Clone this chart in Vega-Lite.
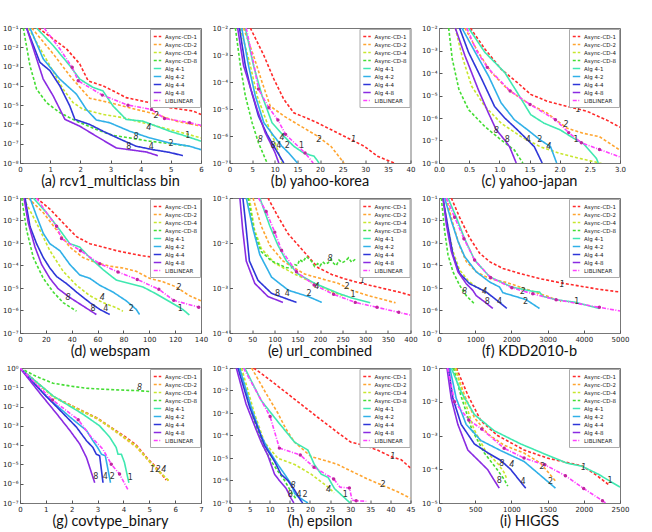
{
"$schema":"https://vega.github.io/schema/vega-lite/v6.json",
"background":"white",
"padding":{"left":2,"top":23,"right":4,"bottom":2},
"bounds":"flush",
"columns":3,
"spacing":{"row":35,"column":28.5},
"datasets":{
"lines":[
{"p":"a","s":"Async-CD-1","x":0.61,"y":0.1},{"p":"a","s":"Async-CD-1","x":1.54,"y":8.32e-3},{"p":"a","s":"Async-CD-1","x":1.98,"y":1.38e-3},{"p":"a","s":"Async-CD-1","x":2.26,"y":1.82e-4},{"p":"a","s":"Async-CD-1","x":2.75,"y":1e-4},{"p":"a","s":"Async-CD-1","x":3.19,"y":4.57e-5},{"p":"a","s":"Async-CD-1","x":3.52,"y":2.45e-5},{"p":"a","s":"Async-CD-1","x":4.3,"y":1.35e-5},{"p":"a","s":"Async-CD-1","x":4.96,"y":7.41e-6},{"p":"a","s":"Async-CD-1","x":5.73,"y":5.01e-6},{"p":"a","s":"Async-CD-1","x":6.0,"y":3.31e-6},
{"p":"a","s":"Async-CD-2","x":0.39,"y":0.1},{"p":"a","s":"Async-CD-2","x":1.1,"y":4.57e-3},{"p":"a","s":"Async-CD-2","x":1.65,"y":3.39e-4},{"p":"a","s":"Async-CD-2","x":2.09,"y":5.5e-5},{"p":"a","s":"Async-CD-2","x":2.31,"y":2.29e-5},{"p":"a","s":"Async-CD-2","x":2.97,"y":1.35e-5},{"p":"a","s":"Async-CD-2","x":3.85,"y":6.03e-6},{"p":"a","s":"Async-CD-2","x":4.52,"y":3.31e-6},{"p":"a","s":"Async-CD-2","x":5.18,"y":1.48e-6},{"p":"a","s":"Async-CD-2","x":6.0,"y":8.13e-7},
{"p":"a","s":"Async-CD-4","x":0.28,"y":0.1},{"p":"a","s":"Async-CD-4","x":0.99,"y":1.12e-3},{"p":"a","s":"Async-CD-4","x":1.43,"y":6.76e-5},{"p":"a","s":"Async-CD-4","x":1.76,"y":1.35e-5},{"p":"a","s":"Async-CD-4","x":2.09,"y":6.03e-6},{"p":"a","s":"Async-CD-4","x":2.75,"y":3.31e-6},{"p":"a","s":"Async-CD-4","x":3.41,"y":2.24e-6},{"p":"a","s":"Async-CD-4","x":4.07,"y":1.23e-6},{"p":"a","s":"Async-CD-4","x":4.74,"y":6.76e-7},{"p":"a","s":"Async-CD-4","x":5.4,"y":3.63e-7},{"p":"a","s":"Async-CD-4","x":6.0,"y":2.0e-7},
{"p":"a","s":"Async-CD-8","x":0.11,"y":0.1},{"p":"a","s":"Async-CD-8","x":0.33,"y":1.12e-3},{"p":"a","s":"Async-CD-8","x":0.55,"y":6.76e-5},{"p":"a","s":"Async-CD-8","x":0.88,"y":1.35e-5},{"p":"a","s":"Async-CD-8","x":1.32,"y":4.07e-6},{"p":"a","s":"Async-CD-8","x":1.87,"y":1.48e-6},{"p":"a","s":"Async-CD-8","x":2.53,"y":5.5e-7},{"p":"a","s":"Async-CD-8","x":3.08,"y":2.69e-7},{"p":"a","s":"Async-CD-8","x":3.63,"y":2.0e-7},{"p":"a","s":"Async-CD-8","x":4.3,"y":1.35e-7},{"p":"a","s":"Async-CD-8","x":4.96,"y":1.02e-7},{"p":"a","s":"Async-CD-8","x":5.62,"y":7.41e-8},
{"p":"a","s":"Alg 4-1","x":0.55,"y":0.1},{"p":"a","s":"Alg 4-1","x":1.1,"y":1.23e-2},{"p":"a","s":"Alg 4-1","x":1.65,"y":1.12e-3},{"p":"a","s":"Alg 4-1","x":1.98,"y":2.24e-4},{"p":"a","s":"Alg 4-1","x":2.42,"y":8.32e-5},{"p":"a","s":"Alg 4-1","x":2.75,"y":5.5e-5},{"p":"a","s":"Alg 4-1","x":3.08,"y":9.12e-6},{"p":"a","s":"Alg 4-1","x":3.52,"y":1.82e-6},{"p":"a","s":"Alg 4-1","x":4.07,"y":1.48e-6},{"p":"a","s":"Alg 4-1","x":4.52,"y":8.13e-7},{"p":"a","s":"Alg 4-1","x":4.96,"y":4.47e-7},{"p":"a","s":"Alg 4-1","x":5.51,"y":2.45e-7},{"p":"a","s":"Alg 4-1","x":6.0,"y":1.35e-7},
{"p":"a","s":"Alg 4-2","x":0.33,"y":0.1},{"p":"a","s":"Alg 4-2","x":0.77,"y":2.51e-3},{"p":"a","s":"Alg 4-2","x":1.32,"y":2.24e-4},{"p":"a","s":"Alg 4-2","x":1.87,"y":3.72e-5},{"p":"a","s":"Alg 4-2","x":2.2,"y":6.03e-6},{"p":"a","s":"Alg 4-2","x":2.53,"y":1.7e-6},{"p":"a","s":"Alg 4-2","x":2.97,"y":1.23e-6},{"p":"a","s":"Alg 4-2","x":3.63,"y":4.47e-7},{"p":"a","s":"Alg 4-2","x":4.3,"y":2.0e-7},{"p":"a","s":"Alg 4-2","x":4.96,"y":1.1e-7},{"p":"a","s":"Alg 4-2","x":5.62,"y":7.41e-8},{"p":"a","s":"Alg 4-2","x":6.0,"y":4.9e-8},
{"p":"a","s":"Alg 4-4","x":0.22,"y":0.1},{"p":"a","s":"Alg 4-4","x":0.66,"y":1.66e-3},{"p":"a","s":"Alg 4-4","x":0.99,"y":6.17e-4},{"p":"a","s":"Alg 4-4","x":1.32,"y":1e-4},{"p":"a","s":"Alg 4-4","x":1.65,"y":9.12e-6},{"p":"a","s":"Alg 4-4","x":1.82,"y":1.82e-6},{"p":"a","s":"Alg 4-4","x":2.31,"y":1e-6},{"p":"a","s":"Alg 4-4","x":2.75,"y":4.47e-7},{"p":"a","s":"Alg 4-4","x":3.3,"y":1.78e-7},{"p":"a","s":"Alg 4-4","x":3.85,"y":7.41e-8},{"p":"a","s":"Alg 4-4","x":4.41,"y":4.9e-8},{"p":"a","s":"Alg 4-4","x":4.96,"y":3.55e-8},{"p":"a","s":"Alg 4-4","x":5.4,"y":2.4e-8},
{"p":"a","s":"Alg 4-8","x":0.22,"y":0.1},{"p":"a","s":"Alg 4-8","x":0.77,"y":2.24e-4},{"p":"a","s":"Alg 4-8","x":1.1,"y":3.02e-5},{"p":"a","s":"Alg 4-8","x":1.49,"y":1.82e-6},{"p":"a","s":"Alg 4-8","x":1.98,"y":8.13e-7},{"p":"a","s":"Alg 4-8","x":2.53,"y":2.45e-7},{"p":"a","s":"Alg 4-8","x":3.19,"y":6.03e-8},{"p":"a","s":"Alg 4-8","x":3.63,"y":4.9e-8},{"p":"a","s":"Alg 4-8","x":4.19,"y":3.72e-8},{"p":"a","s":"Alg 4-8","x":4.57,"y":2.4e-8},
{"p":"a","s":"LIBLINEAR","x":0.8,"y":0.1},{"p":"a","s":"LIBLINEAR","x":1.32,"y":8.32e-3},{"p":"a","s":"LIBLINEAR","x":1.73,"y":9.12e-4,"m":1},{"p":"a","s":"LIBLINEAR","x":1.93,"y":1.82e-4,"m":1},{"p":"a","s":"LIBLINEAR","x":2.73,"y":3.31e-5,"m":1},{"p":"a","s":"LIBLINEAR","x":3.58,"y":1e-5,"m":1},{"p":"a","s":"LIBLINEAR","x":4.36,"y":6.03e-6,"m":1},{"p":"a","s":"LIBLINEAR","x":4.79,"y":2.04e-6,"m":1},{"p":"a","s":"LIBLINEAR","x":5.62,"y":1.23e-6,"m":1},{"p":"a","s":"LIBLINEAR","x":6.0,"y":8.91e-7},

{"p":"b","s":"Async-CD-1","x":4.6,"y":1e-2},{"p":"b","s":"Async-CD-1","x":7.6,"y":9.55e-4},{"p":"b","s":"Async-CD-1","x":9.8,"y":1.29e-4},{"p":"b","s":"Async-CD-1","x":12.0,"y":2.29e-5},{"p":"b","s":"Async-CD-1","x":14.2,"y":7.24e-6},{"p":"b","s":"Async-CD-1","x":16.8,"y":4.79e-6},{"p":"b","s":"Async-CD-1","x":19.4,"y":3.09e-6},{"p":"b","s":"Async-CD-1","x":23.1,"y":1.51e-6},{"p":"b","s":"Async-CD-1","x":26.8,"y":7.41e-7},{"p":"b","s":"Async-CD-1","x":29.8,"y":4.17e-7},{"p":"b","s":"Async-CD-1","x":32.7,"y":1.78e-7},{"p":"b","s":"Async-CD-1","x":36.4,"y":1e-7},{"p":"b","s":"Async-CD-1","x":38.0,"y":7.08e-8},
{"p":"b","s":"Async-CD-2","x":3.1,"y":1e-2},{"p":"b","s":"Async-CD-2","x":5.3,"y":9.55e-4},{"p":"b","s":"Async-CD-2","x":7.2,"y":9.77e-5},{"p":"b","s":"Async-CD-2","x":9.0,"y":1.29e-5},{"p":"b","s":"Async-CD-2","x":12.0,"y":5.5e-6},{"p":"b","s":"Async-CD-2","x":15.7,"y":2.34e-6},{"p":"b","s":"Async-CD-2","x":19.4,"y":1e-6},{"p":"b","s":"Async-CD-2","x":22.4,"y":4.17e-7},{"p":"b","s":"Async-CD-2","x":25.3,"y":1e-7},
{"p":"b","s":"Async-CD-4","x":2.4,"y":1e-2},{"p":"b","s":"Async-CD-4","x":4.6,"y":4.07e-4},{"p":"b","s":"Async-CD-4","x":6.1,"y":3.09e-5},{"p":"b","s":"Async-CD-4","x":8.3,"y":3.09e-6},{"p":"b","s":"Async-CD-4","x":10.1,"y":5.62e-7},{"p":"b","s":"Async-CD-4","x":11.6,"y":1e-7},
{"p":"b","s":"Async-CD-8","x":1.3,"y":1e-2},{"p":"b","s":"Async-CD-8","x":2.4,"y":4.07e-4},{"p":"b","s":"Async-CD-8","x":3.5,"y":3.09e-5},{"p":"b","s":"Async-CD-8","x":5.0,"y":3.09e-6},{"p":"b","s":"Async-CD-8","x":6.4,"y":5.62e-7},{"p":"b","s":"Async-CD-8","x":8.3,"y":1e-7},
{"p":"b","s":"Alg 4-1","x":3.5,"y":1e-2},{"p":"b","s":"Alg 4-1","x":5.3,"y":4.07e-4},{"p":"b","s":"Alg 4-1","x":7.2,"y":3.09e-5},{"p":"b","s":"Alg 4-1","x":9.4,"y":3.09e-6},{"p":"b","s":"Alg 4-1","x":12.0,"y":1e-6},{"p":"b","s":"Alg 4-1","x":14.2,"y":4.17e-7},{"p":"b","s":"Alg 4-1","x":16.4,"y":2.34e-7},{"p":"b","s":"Alg 4-1","x":18.7,"y":1.78e-7},{"p":"b","s":"Alg 4-1","x":19.8,"y":1e-7},
{"p":"b","s":"Alg 4-2","x":2.7,"y":1e-2},{"p":"b","s":"Alg 4-2","x":4.2,"y":4.07e-4},{"p":"b","s":"Alg 4-2","x":5.7,"y":3.09e-5},{"p":"b","s":"Alg 4-2","x":7.6,"y":3.09e-6},{"p":"b","s":"Alg 4-2","x":9.8,"y":1e-6},{"p":"b","s":"Alg 4-2","x":11.6,"y":4.17e-7},{"p":"b","s":"Alg 4-2","x":13.1,"y":2.34e-7},{"p":"b","s":"Alg 4-2","x":15.0,"y":1e-7},
{"p":"b","s":"Alg 4-4","x":2.2,"y":1e-2},{"p":"b","s":"Alg 4-4","x":3.5,"y":4.07e-4},{"p":"b","s":"Alg 4-4","x":4.7,"y":5.5e-5},{"p":"b","s":"Alg 4-4","x":6.4,"y":5.5e-6},{"p":"b","s":"Alg 4-4","x":8.3,"y":1.15e-6},{"p":"b","s":"Alg 4-4","x":9.8,"y":4.17e-7},{"p":"b","s":"Alg 4-4","x":12.0,"y":1e-7},
{"p":"b","s":"Alg 4-8","x":1.8,"y":1e-2},{"p":"b","s":"Alg 4-8","x":3.1,"y":4.07e-4},{"p":"b","s":"Alg 4-8","x":4.6,"y":6.31e-5},{"p":"b","s":"Alg 4-8","x":6.1,"y":9.77e-6},{"p":"b","s":"Alg 4-8","x":7.9,"y":1.32e-6},{"p":"b","s":"Alg 4-8","x":9.4,"y":4.17e-7},{"p":"b","s":"Alg 4-8","x":10.1,"y":2.34e-7},{"p":"b","s":"Alg 4-8","x":10.9,"y":1e-7},
{"p":"b","s":"LIBLINEAR","x":3.7,"y":1e-2},{"p":"b","s":"LIBLINEAR","x":5.2,"y":6.31e-4},{"p":"b","s":"LIBLINEAR","x":6.4,"y":5.5e-5,"m":1},{"p":"b","s":"LIBLINEAR","x":8.7,"y":1.12e-5,"m":1},{"p":"b","s":"LIBLINEAR","x":10.7,"y":3.89e-6,"m":1},{"p":"b","s":"LIBLINEAR","x":12.4,"y":1.15e-6,"m":1},{"p":"b","s":"LIBLINEAR","x":16.7,"y":2.34e-7,"m":1},{"p":"b","s":"LIBLINEAR","x":18.5,"y":1e-7},

{"p":"c","s":"Async-CD-1","x":0.52,"y":1e-2},{"p":"c","s":"Async-CD-1","x":0.76,"y":1.17e-3},{"p":"c","s":"Async-CD-1","x":1.03,"y":1.48e-4},{"p":"c","s":"Async-CD-1","x":1.3,"y":3.72e-5},{"p":"c","s":"Async-CD-1","x":1.52,"y":1.12e-5},{"p":"c","s":"Async-CD-1","x":1.79,"y":5.62e-6},{"p":"c","s":"Async-CD-1","x":2.12,"y":3.31e-6},{"p":"c","s":"Async-CD-1","x":2.45,"y":2.0e-6},{"p":"c","s":"Async-CD-1","x":2.77,"y":8.32e-7},{"p":"c","s":"Async-CD-1","x":3.0,"y":3.89e-7},
{"p":"c","s":"Async-CD-2","x":0.43,"y":1e-2},{"p":"c","s":"Async-CD-2","x":0.65,"y":8.32e-4},{"p":"c","s":"Async-CD-2","x":0.87,"y":1.05e-4},{"p":"c","s":"Async-CD-2","x":1.14,"y":1.86e-5},{"p":"c","s":"Async-CD-2","x":1.47,"y":4.68e-6},{"p":"c","s":"Async-CD-2","x":1.79,"y":1.66e-6},{"p":"c","s":"Async-CD-2","x":2.12,"y":3.55e-7},{"p":"c","s":"Async-CD-2","x":2.39,"y":2.09e-7},{"p":"c","s":"Async-CD-2","x":2.66,"y":1.48e-7},{"p":"c","s":"Async-CD-2","x":2.83,"y":7.41e-8},{"p":"c","s":"Async-CD-2","x":3.0,"y":3.72e-8},
{"p":"c","s":"Async-CD-4","x":0.27,"y":1e-2},{"p":"c","s":"Async-CD-4","x":0.38,"y":5.89e-4},{"p":"c","s":"Async-CD-4","x":0.54,"y":2.63e-5},{"p":"c","s":"Async-CD-4","x":0.76,"y":3.31e-6},{"p":"c","s":"Async-CD-4","x":1.03,"y":5.89e-7},{"p":"c","s":"Async-CD-4","x":1.36,"y":1.48e-7},{"p":"c","s":"Async-CD-4","x":1.68,"y":5.25e-8},{"p":"c","s":"Async-CD-4","x":2.01,"y":2.63e-8},{"p":"c","s":"Async-CD-4","x":2.34,"y":1.58e-8},{"p":"c","s":"Async-CD-4","x":2.66,"y":1e-8},{"p":"c","s":"Async-CD-4","x":2.8,"y":7.94e-9},
{"p":"c","s":"Async-CD-8","x":0.16,"y":1e-2},{"p":"c","s":"Async-CD-8","x":0.22,"y":4.17e-4},{"p":"c","s":"Async-CD-8","x":0.33,"y":1.86e-5},{"p":"c","s":"Async-CD-8","x":0.49,"y":2.34e-6},{"p":"c","s":"Async-CD-8","x":0.76,"y":4.17e-7},{"p":"c","s":"Async-CD-8","x":1.03,"y":1.05e-7},{"p":"c","s":"Async-CD-8","x":1.25,"y":3.72e-8},{"p":"c","s":"Async-CD-8","x":1.39,"y":1e-8},
{"p":"c","s":"Alg 4-1","x":0.49,"y":1e-2},{"p":"c","s":"Alg 4-1","x":0.76,"y":8.32e-4},{"p":"c","s":"Alg 4-1","x":1.09,"y":1.05e-4},{"p":"c","s":"Alg 4-1","x":1.3,"y":1.32e-5},{"p":"c","s":"Alg 4-1","x":1.52,"y":1.41e-6},{"p":"c","s":"Alg 4-1","x":1.74,"y":5.89e-7},{"p":"c","s":"Alg 4-1","x":2.01,"y":2.95e-7},{"p":"c","s":"Alg 4-1","x":2.23,"y":1.26e-7},{"p":"c","s":"Alg 4-1","x":2.39,"y":7.41e-8},{"p":"c","s":"Alg 4-1","x":2.61,"y":1.58e-8},{"p":"c","s":"Alg 4-1","x":2.64,"y":1e-8},
{"p":"c","s":"Alg 4-2","x":0.38,"y":1e-2},{"p":"c","s":"Alg 4-2","x":0.6,"y":8.32e-4},{"p":"c","s":"Alg 4-2","x":0.82,"y":7.41e-5},{"p":"c","s":"Alg 4-2","x":1.03,"y":4.68e-6},{"p":"c","s":"Alg 4-2","x":1.25,"y":8.32e-7},{"p":"c","s":"Alg 4-2","x":1.47,"y":2.95e-7},{"p":"c","s":"Alg 4-2","x":1.68,"y":1.05e-7},{"p":"c","s":"Alg 4-2","x":1.85,"y":5.25e-8},{"p":"c","s":"Alg 4-2","x":1.95,"y":1e-8},
{"p":"c","s":"Alg 4-4","x":0.34,"y":1e-2},{"p":"c","s":"Alg 4-4","x":0.49,"y":8.32e-4},{"p":"c","s":"Alg 4-4","x":0.71,"y":5.25e-5},{"p":"c","s":"Alg 4-4","x":0.92,"y":3.31e-6},{"p":"c","s":"Alg 4-4","x":1.09,"y":1e-6},{"p":"c","s":"Alg 4-4","x":1.3,"y":2.95e-7},{"p":"c","s":"Alg 4-4","x":1.47,"y":1.05e-7},{"p":"c","s":"Alg 4-4","x":1.58,"y":5.25e-8},{"p":"c","s":"Alg 4-4","x":1.71,"y":1e-8},
{"p":"c","s":"Alg 4-8","x":0.27,"y":1e-2},{"p":"c","s":"Alg 4-8","x":0.43,"y":5.89e-4},{"p":"c","s":"Alg 4-8","x":0.65,"y":1.86e-5},{"p":"c","s":"Alg 4-8","x":0.82,"y":1.66e-6},{"p":"c","s":"Alg 4-8","x":0.95,"y":2.95e-7},{"p":"c","s":"Alg 4-8","x":1.09,"y":1.05e-7},{"p":"c","s":"Alg 4-8","x":1.17,"y":5.25e-8},{"p":"c","s":"Alg 4-8","x":1.28,"y":1e-8},
{"p":"c","s":"LIBLINEAR","x":0.46,"y":1e-2},{"p":"c","s":"LIBLINEAR","x":0.62,"y":1e-3},{"p":"c","s":"LIBLINEAR","x":0.8,"y":1.78e-4,"m":1},{"p":"c","s":"LIBLINEAR","x":1.18,"y":1.58e-5,"m":1},{"p":"c","s":"LIBLINEAR","x":1.51,"y":3.98e-6,"m":1},{"p":"c","s":"LIBLINEAR","x":1.93,"y":8.32e-7,"m":1},{"p":"c","s":"LIBLINEAR","x":2.15,"y":2.24e-7,"m":1},{"p":"c","s":"LIBLINEAR","x":2.36,"y":7.94e-8,"m":1},{"p":"c","s":"LIBLINEAR","x":2.66,"y":3.98e-8,"m":1},{"p":"c","s":"LIBLINEAR","x":3.0,"y":1.86e-8},

{"p":"d","s":"Async-CD-1","x":12.8,"y":0.1},{"p":"d","s":"Async-CD-1","x":23.1,"y":3.24e-2},{"p":"d","s":"Async-CD-1","x":33.4,"y":7.76e-3},{"p":"d","s":"Async-CD-1","x":43.7,"y":1.91e-3},{"p":"d","s":"Async-CD-1","x":54.0,"y":9.33e-4},{"p":"d","s":"Async-CD-1","x":64.2,"y":6.61e-4},{"p":"d","s":"Async-CD-1","x":74.5,"y":4.57e-4},{"p":"d","s":"Async-CD-1","x":84.8,"y":3.47e-4},{"p":"d","s":"Async-CD-1","x":95.0,"y":2.69e-4},{"p":"d","s":"Async-CD-1","x":105.3,"y":2.24e-4},{"p":"d","s":"Async-CD-1","x":115.6,"y":2.04e-4},{"p":"d","s":"Async-CD-1","x":125.9,"y":1.58e-4},{"p":"d","s":"Async-CD-1","x":136.1,"y":7.76e-5},{"p":"d","s":"Async-CD-1","x":140,"y":5.5e-5},
{"p":"d","s":"Async-CD-2","x":6.4,"y":0.1},{"p":"d","s":"Async-CD-2","x":18.0,"y":2.24e-2},{"p":"d","s":"Async-CD-2","x":28.3,"y":3.8e-3},{"p":"d","s":"Async-CD-2","x":38.5,"y":6.61e-4},{"p":"d","s":"Async-CD-2","x":48.8,"y":2.24e-4},{"p":"d","s":"Async-CD-2","x":59.1,"y":1.32e-4},{"p":"d","s":"Async-CD-2","x":69.4,"y":9.33e-5},{"p":"d","s":"Async-CD-2","x":79.6,"y":7.76e-5},{"p":"d","s":"Async-CD-2","x":89.9,"y":5.5e-5},{"p":"d","s":"Async-CD-2","x":100.2,"y":2.69e-5},{"p":"d","s":"Async-CD-2","x":110.5,"y":1.91e-5},{"p":"d","s":"Async-CD-2","x":120.7,"y":1.12e-5},{"p":"d","s":"Async-CD-2","x":131.0,"y":4.57e-6},{"p":"d","s":"Async-CD-2","x":140,"y":2.69e-6},
{"p":"d","s":"Async-CD-4","x":2.6,"y":0.1},{"p":"d","s":"Async-CD-4","x":12.8,"y":7.76e-3},{"p":"d","s":"Async-CD-4","x":23.1,"y":4.57e-4},{"p":"d","s":"Async-CD-4","x":33.4,"y":5.5e-5},{"p":"d","s":"Async-CD-4","x":43.7,"y":1.32e-5},{"p":"d","s":"Async-CD-4","x":54.0,"y":4.57e-6},{"p":"d","s":"Async-CD-4","x":64.2,"y":2.24e-6},{"p":"d","s":"Async-CD-4","x":74.5,"y":1.32e-6},{"p":"d","s":"Async-CD-4","x":79.6,"y":9.33e-7},
{"p":"d","s":"Async-CD-8","x":1.3,"y":0.1},{"p":"d","s":"Async-CD-8","x":5.1,"y":3.8e-3},{"p":"d","s":"Async-CD-8","x":10.3,"y":2.24e-4},{"p":"d","s":"Async-CD-8","x":18.0,"y":2.69e-5},{"p":"d","s":"Async-CD-8","x":25.7,"y":6.61e-6},{"p":"d","s":"Async-CD-8","x":33.4,"y":2.24e-6},{"p":"d","s":"Async-CD-8","x":43.7,"y":9.33e-7},
{"p":"d","s":"Alg 4-1","x":10.3,"y":0.1},{"p":"d","s":"Alg 4-1","x":20.5,"y":2.24e-2},{"p":"d","s":"Alg 4-1","x":30.8,"y":3.8e-3},{"p":"d","s":"Alg 4-1","x":38.5,"y":9.33e-4},{"p":"d","s":"Alg 4-1","x":46.2,"y":6.61e-4},{"p":"d","s":"Alg 4-1","x":54.0,"y":2.24e-4},{"p":"d","s":"Alg 4-1","x":64.2,"y":6.61e-5},{"p":"d","s":"Alg 4-1","x":74.5,"y":2.24e-5},{"p":"d","s":"Alg 4-1","x":84.8,"y":1.58e-5},{"p":"d","s":"Alg 4-1","x":95.0,"y":1.12e-5},{"p":"d","s":"Alg 4-1","x":105.3,"y":5.5e-6},{"p":"d","s":"Alg 4-1","x":115.6,"y":2.51e-6},{"p":"d","s":"Alg 4-1","x":125.9,"y":1.12e-6},{"p":"d","s":"Alg 4-1","x":131.0,"y":6.31e-7},
{"p":"d","s":"Alg 4-2","x":7.7,"y":0.1},{"p":"d","s":"Alg 4-2","x":12.8,"y":1.58e-2},{"p":"d","s":"Alg 4-2","x":18.0,"y":2.69e-3},{"p":"d","s":"Alg 4-2","x":23.1,"y":9.33e-4},{"p":"d","s":"Alg 4-2","x":30.8,"y":4.57e-4},{"p":"d","s":"Alg 4-2","x":38.5,"y":1.12e-4},{"p":"d","s":"Alg 4-2","x":46.2,"y":3.8e-5},{"p":"d","s":"Alg 4-2","x":54.0,"y":2.69e-5},{"p":"d","s":"Alg 4-2","x":61.7,"y":1.32e-5},{"p":"d","s":"Alg 4-2","x":71.9,"y":6.61e-6},{"p":"d","s":"Alg 4-2","x":82.2,"y":2.69e-6},{"p":"d","s":"Alg 4-2","x":89.9,"y":1.12e-6},{"p":"d","s":"Alg 4-2","x":92.5,"y":6.61e-7},
{"p":"d","s":"Alg 4-4","x":3.9,"y":0.1},{"p":"d","s":"Alg 4-4","x":7.7,"y":5.5e-3},{"p":"d","s":"Alg 4-4","x":12.8,"y":9.33e-4},{"p":"d","s":"Alg 4-4","x":18.0,"y":2.24e-4},{"p":"d","s":"Alg 4-4","x":23.1,"y":7.76e-5},{"p":"d","s":"Alg 4-4","x":28.3,"y":3.24e-5},{"p":"d","s":"Alg 4-4","x":35.9,"y":1.58e-5},{"p":"d","s":"Alg 4-4","x":43.7,"y":6.61e-6},{"p":"d","s":"Alg 4-4","x":54.0,"y":2.24e-6},{"p":"d","s":"Alg 4-4","x":61.7,"y":1.12e-6},{"p":"d","s":"Alg 4-4","x":69.4,"y":6.61e-7},
{"p":"d","s":"Alg 4-8","x":3.1,"y":0.1},{"p":"d","s":"Alg 4-8","x":6.4,"y":7.76e-3},{"p":"d","s":"Alg 4-8","x":11.6,"y":6.61e-4},{"p":"d","s":"Alg 4-8","x":16.7,"y":1.12e-4},{"p":"d","s":"Alg 4-8","x":23.1,"y":2.69e-5},{"p":"d","s":"Alg 4-8","x":29.5,"y":9.33e-6},{"p":"d","s":"Alg 4-8","x":38.5,"y":3.8e-6},{"p":"d","s":"Alg 4-8","x":48.8,"y":1.58e-6},{"p":"d","s":"Alg 4-8","x":59.1,"y":6.61e-7},
{"p":"d","s":"LIBLINEAR","x":12.8,"y":0.1},{"p":"d","s":"LIBLINEAR","x":20.5,"y":2.24e-2},{"p":"d","s":"LIBLINEAR","x":28.3,"y":5.5e-3,"m":1},{"p":"d","s":"LIBLINEAR","x":32.1,"y":1.58e-3,"m":1},{"p":"d","s":"LIBLINEAR","x":46.7,"y":4.57e-4,"m":1},{"p":"d","s":"LIBLINEAR","x":61.7,"y":1.2e-4,"m":1},{"p":"d","s":"LIBLINEAR","x":75.8,"y":5.13e-5,"m":1},{"p":"d","s":"LIBLINEAR","x":90.7,"y":2.4e-5,"m":1},{"p":"d","s":"LIBLINEAR","x":107.4,"y":8.71e-6,"m":1},{"p":"d","s":"LIBLINEAR","x":118.9,"y":2.82e-6,"m":1},{"p":"d","s":"LIBLINEAR","x":138.2,"y":1.41e-6,"m":1},{"p":"d","s":"LIBLINEAR","x":140,"y":1.26e-6},

{"p":"e","s":"Async-CD-1","x":85,"y":0.1},{"p":"e","s":"Async-CD-1","x":107,"y":3.89e-2},{"p":"e","s":"Async-CD-1","x":130,"y":1.58e-2},{"p":"e","s":"Async-CD-1","x":152,"y":8.91e-3},{"p":"e","s":"Async-CD-1","x":174,"y":5.01e-3},{"p":"e","s":"Async-CD-1","x":196,"y":2.82e-3},{"p":"e","s":"Async-CD-1","x":226,"y":2.0e-3},{"p":"e","s":"Async-CD-1","x":256,"y":1.58e-3},{"p":"e","s":"Async-CD-1","x":285,"y":1.32e-3},{"p":"e","s":"Async-CD-1","x":315,"y":1.12e-3},{"p":"e","s":"Async-CD-1","x":344,"y":9.55e-4},{"p":"e","s":"Async-CD-1","x":374,"y":8.13e-4},{"p":"e","s":"Async-CD-1","x":400,"y":6.92e-4},
{"p":"e","s":"Async-CD-2","x":52,"y":0.1},{"p":"e","s":"Async-CD-2","x":70,"y":2.4e-2},{"p":"e","s":"Async-CD-2","x":89,"y":8.91e-3},{"p":"e","s":"Async-CD-2","x":118,"y":3.98e-3},{"p":"e","s":"Async-CD-2","x":166,"y":2.04e-3},{"p":"e","s":"Async-CD-2","x":241,"y":1.26e-3},{"p":"e","s":"Async-CD-2","x":270,"y":8.91e-4},{"p":"e","s":"Async-CD-2","x":307,"y":6.76e-4},{"p":"e","s":"Async-CD-2","x":367,"y":4.68e-4},
{"p":"e","s":"Async-CD-4","x":44,"y":0.1},{"p":"e","s":"Async-CD-4","x":55,"y":2.04e-2},{"p":"e","s":"Async-CD-4","x":70,"y":7.59e-3},{"p":"e","s":"Async-CD-4","x":100,"y":3.55e-3},{"p":"e","s":"Async-CD-4","x":144,"y":2.04e-3},{"p":"e","s":"Async-CD-4","x":204,"y":1.05e-3},{"p":"e","s":"Async-CD-4","x":226,"y":8.32e-4},{"p":"e","s":"Async-CD-4","x":250,"y":6.76e-4},
{"p":"e","s":"Async-CD-8","x":41,"y":0.1},{"p":"e","s":"Async-CD-8","x":55,"y":1.7e-2},{"p":"e","s":"Async-CD-8","x":70,"y":6.46e-3},{"p":"e","s":"Async-CD-8","x":93,"y":3.98e-3},{"p":"e","s":"Async-CD-8","x":115,"y":3.16e-3},{"p":"e","s":"Async-CD-8","x":126,"y":2.82e-3},{"p":"e","s":"Async-CD-8","x":137,"y":2.82e-3},{"p":"e","s":"Async-CD-8","x":144,"y":3.31e-3},{"p":"e","s":"Async-CD-8","x":150,"y":3.16e-3},{"p":"e","s":"Async-CD-8","x":155,"y":4.27e-3},{"p":"e","s":"Async-CD-8","x":162,"y":3.8e-3},{"p":"e","s":"Async-CD-8","x":170,"y":5.01e-3},{"p":"e","s":"Async-CD-8","x":176,"y":4.37e-3},{"p":"e","s":"Async-CD-8","x":181,"y":3.98e-3},{"p":"e","s":"Async-CD-8","x":188,"y":3.02e-3},{"p":"e","s":"Async-CD-8","x":195,"y":3.47e-3},{"p":"e","s":"Async-CD-8","x":200,"y":3.09e-3},{"p":"e","s":"Async-CD-8","x":206,"y":3.8e-3},{"p":"e","s":"Async-CD-8","x":212,"y":3.39e-3},{"p":"e","s":"Async-CD-8","x":218,"y":3.63e-3},{"p":"e","s":"Async-CD-8","x":224,"y":4.37e-3},{"p":"e","s":"Async-CD-8","x":230,"y":3.55e-3},{"p":"e","s":"Async-CD-8","x":236,"y":3.16e-3},{"p":"e","s":"Async-CD-8","x":242,"y":4.17e-3},{"p":"e","s":"Async-CD-8","x":249,"y":3.63e-3},{"p":"e","s":"Async-CD-8","x":256,"y":3.98e-3},{"p":"e","s":"Async-CD-8","x":263,"y":4.68e-3},{"p":"e","s":"Async-CD-8","x":270,"y":3.72e-3},{"p":"e","s":"Async-CD-8","x":278,"y":4.37e-3},
{"p":"e","s":"Alg 4-1","x":67,"y":0.1},{"p":"e","s":"Alg 4-1","x":89,"y":2.4e-2},{"p":"e","s":"Alg 4-1","x":107,"y":8.91e-3},{"p":"e","s":"Alg 4-1","x":126,"y":3.98e-3},{"p":"e","s":"Alg 4-1","x":152,"y":2.04e-3},{"p":"e","s":"Alg 4-1","x":189,"y":1.26e-3},{"p":"e","s":"Alg 4-1","x":241,"y":7.59e-4},{"p":"e","s":"Alg 4-1","x":270,"y":6.03e-4},{"p":"e","s":"Alg 4-1","x":311,"y":4.68e-4},
{"p":"e","s":"Alg 4-2","x":37,"y":0.1},{"p":"e","s":"Alg 4-2","x":52,"y":2.04e-2},{"p":"e","s":"Alg 4-2","x":67,"y":5.5e-3},{"p":"e","s":"Alg 4-2","x":93,"y":1.74e-3},{"p":"e","s":"Alg 4-2","x":130,"y":8.91e-4},{"p":"e","s":"Alg 4-2","x":174,"y":6.46e-4},{"p":"e","s":"Alg 4-2","x":204,"y":4.79e-4},
{"p":"e","s":"Alg 4-4","x":29.6,"y":0.1},{"p":"e","s":"Alg 4-4","x":37,"y":2.04e-2},{"p":"e","s":"Alg 4-4","x":44,"y":3.98e-3},{"p":"e","s":"Alg 4-4","x":63,"y":1.48e-3},{"p":"e","s":"Alg 4-4","x":93,"y":7.59e-4},{"p":"e","s":"Alg 4-4","x":148,"y":4.79e-4},
{"p":"e","s":"Alg 4-8","x":23,"y":0.1},{"p":"e","s":"Alg 4-8","x":29,"y":2.04e-2},{"p":"e","s":"Alg 4-8","x":37,"y":3.98e-3},{"p":"e","s":"Alg 4-8","x":56,"y":1.26e-3},{"p":"e","s":"Alg 4-8","x":85,"y":6.46e-4},{"p":"e","s":"Alg 4-8","x":118,"y":4.79e-4},
{"p":"e","s":"LIBLINEAR","x":64,"y":0.1},{"p":"e","s":"LIBLINEAR","x":81,"y":5.01e-2,"m":1},{"p":"e","s":"LIBLINEAR","x":100,"y":1.74e-2,"m":1},{"p":"e","s":"LIBLINEAR","x":115,"y":6.92e-3,"m":1},{"p":"e","s":"LIBLINEAR","x":148,"y":2.29e-3,"m":1},{"p":"e","s":"LIBLINEAR","x":187,"y":1.17e-3,"m":1},{"p":"e","s":"LIBLINEAR","x":230,"y":7.24e-4,"m":1},{"p":"e","s":"LIBLINEAR","x":278,"y":4.79e-4,"m":1},{"p":"e","s":"LIBLINEAR","x":326,"y":3.72e-4,"m":1},{"p":"e","s":"LIBLINEAR","x":374,"y":2.88e-4,"m":1},{"p":"e","s":"LIBLINEAR","x":400,"y":2.51e-4},

{"p":"f","s":"Async-CD-1","x":340,"y":0.1},{"p":"f","s":"Async-CD-1","x":570,"y":1.38e-2},{"p":"f","s":"Async-CD-1","x":846,"y":1.7e-3},{"p":"f","s":"Async-CD-1","x":1121,"y":3.55e-4},{"p":"f","s":"Async-CD-1","x":1397,"y":1.48e-4},{"p":"f","s":"Async-CD-1","x":1765,"y":7.41e-5},{"p":"f","s":"Async-CD-1","x":2224,"y":4.47e-5},{"p":"f","s":"Async-CD-1","x":2776,"y":2.63e-5},{"p":"f","s":"Async-CD-1","x":3327,"y":1.74e-5},{"p":"f","s":"Async-CD-1","x":3878,"y":1.23e-5},{"p":"f","s":"Async-CD-1","x":4430,"y":8.71e-6},{"p":"f","s":"Async-CD-1","x":5000,"y":6.61e-6},
{"p":"f","s":"Async-CD-2","x":202,"y":0.1},{"p":"f","s":"Async-CD-2","x":386,"y":6.92e-3},{"p":"f","s":"Async-CD-2","x":570,"y":7.24e-4},{"p":"f","s":"Async-CD-2","x":754,"y":1.51e-4},{"p":"f","s":"Async-CD-2","x":1029,"y":5.25e-5},{"p":"f","s":"Async-CD-2","x":1397,"y":2.63e-5},{"p":"f","s":"Async-CD-2","x":1856,"y":1.78e-5},{"p":"f","s":"Async-CD-2","x":2408,"y":8.91e-6},{"p":"f","s":"Async-CD-2","x":2959,"y":4.47e-6},{"p":"f","s":"Async-CD-2","x":3373,"y":2.51e-6},
{"p":"f","s":"Async-CD-4","x":110,"y":0.1},{"p":"f","s":"Async-CD-4","x":248,"y":4.9e-3},{"p":"f","s":"Async-CD-4","x":386,"y":4.27e-4},{"p":"f","s":"Async-CD-4","x":570,"y":6.31e-5},{"p":"f","s":"Async-CD-4","x":800,"y":2.19e-5},{"p":"f","s":"Async-CD-4","x":1029,"y":1.1e-5},{"p":"f","s":"Async-CD-4","x":1305,"y":6.61e-6},{"p":"f","s":"Async-CD-4","x":1400,"y":5.25e-6},
{"p":"f","s":"Async-CD-8","x":64,"y":0.1},{"p":"f","s":"Async-CD-8","x":156,"y":3.39e-3},{"p":"f","s":"Async-CD-8","x":248,"y":3.02e-4},{"p":"f","s":"Async-CD-8","x":386,"y":5.25e-5},{"p":"f","s":"Async-CD-8","x":570,"y":1.32e-5},{"p":"f","s":"Async-CD-8","x":754,"y":4.57e-6},{"p":"f","s":"Async-CD-8","x":983,"y":1.95e-6},
{"p":"f","s":"Alg 4-1","x":248,"y":0.1},{"p":"f","s":"Alg 4-1","x":478,"y":1.38e-2},{"p":"f","s":"Alg 4-1","x":708,"y":1.55e-3},{"p":"f","s":"Alg 4-1","x":983,"y":1.74e-4},{"p":"f","s":"Alg 4-1","x":1397,"y":3.16e-5},{"p":"f","s":"Alg 4-1","x":2013,"y":1.1e-5},{"p":"f","s":"Alg 4-1","x":2591,"y":7.08e-6},{"p":"f","s":"Alg 4-1","x":2776,"y":6.61e-6},{"p":"f","s":"Alg 4-1","x":2867,"y":4.27e-6},{"p":"f","s":"Alg 4-1","x":3235,"y":3.02e-6},{"p":"f","s":"Alg 4-1","x":3786,"y":2.29e-6},{"p":"f","s":"Alg 4-1","x":4430,"y":1.23e-6},
{"p":"f","s":"Alg 4-2","x":156,"y":0.1},{"p":"f","s":"Alg 4-2","x":340,"y":9.77e-3},{"p":"f","s":"Alg 4-2","x":524,"y":1.2e-3},{"p":"f","s":"Alg 4-2","x":708,"y":2.51e-4},{"p":"f","s":"Alg 4-2","x":1029,"y":5.25e-5},{"p":"f","s":"Alg 4-2","x":1397,"y":1.86e-5},{"p":"f","s":"Alg 4-2","x":1673,"y":1.1e-5},{"p":"f","s":"Alg 4-2","x":1765,"y":6.17e-6},{"p":"f","s":"Alg 4-2","x":2040,"y":4.57e-6},{"p":"f","s":"Alg 4-2","x":2408,"y":3.02e-6},{"p":"f","s":"Alg 4-2","x":2776,"y":1.23e-6},
{"p":"f","s":"Alg 4-4","x":110,"y":0.1},{"p":"f","s":"Alg 4-4","x":248,"y":4.9e-3},{"p":"f","s":"Alg 4-4","x":386,"y":3.02e-4},{"p":"f","s":"Alg 4-4","x":570,"y":4.47e-5},{"p":"f","s":"Alg 4-4","x":846,"y":1.55e-5},{"p":"f","s":"Alg 4-4","x":1121,"y":9.33e-6},{"p":"f","s":"Alg 4-4","x":1305,"y":6.61e-6},{"p":"f","s":"Alg 4-4","x":1489,"y":3.89e-6},{"p":"f","s":"Alg 4-4","x":1673,"y":2.29e-6},{"p":"f","s":"Alg 4-4","x":1875,"y":1.23e-6},
{"p":"f","s":"Alg 4-8","x":110,"y":0.1},{"p":"f","s":"Alg 4-8","x":202,"y":6.92e-3},{"p":"f","s":"Alg 4-8","x":340,"y":4.27e-4},{"p":"f","s":"Alg 4-8","x":524,"y":5.25e-5},{"p":"f","s":"Alg 4-8","x":754,"y":1.55e-5},{"p":"f","s":"Alg 4-8","x":937,"y":7.76e-6},{"p":"f","s":"Alg 4-8","x":1029,"y":4.57e-6},{"p":"f","s":"Alg 4-8","x":1213,"y":2.75e-6},{"p":"f","s":"Alg 4-8","x":1489,"y":1.23e-6},
{"p":"f","s":"LIBLINEAR","x":202,"y":0.1},{"p":"f","s":"LIBLINEAR","x":432,"y":1.38e-2,"m":1},{"p":"f","s":"LIBLINEAR","x":689,"y":1.55e-3,"m":1},{"p":"f","s":"LIBLINEAR","x":983,"y":1.74e-4,"m":1},{"p":"f","s":"LIBLINEAR","x":1424,"y":2.95e-5,"m":1},{"p":"f","s":"LIBLINEAR","x":2013,"y":1.02e-5,"m":1},{"p":"f","s":"LIBLINEAR","x":2591,"y":5.5e-6,"m":1},{"p":"f","s":"LIBLINEAR","x":3235,"y":3.02e-6,"m":1},{"p":"f","s":"LIBLINEAR","x":4430,"y":1.38e-6,"m":1},{"p":"f","s":"LIBLINEAR","x":5000,"y":9.55e-7},

{"p":"g","s":"Async-CD-1","x":0,"y":1},{"p":"g","s":"Async-CD-1","x":1.3,"y":3.24e-2},{"p":"g","s":"Async-CD-1","x":2.5,"y":5.25e-3},{"p":"g","s":"Async-CD-1","x":3.0,"y":2.51e-3},{"p":"g","s":"Async-CD-1","x":3.5,"y":8.71e-4},{"p":"g","s":"Async-CD-1","x":4.0,"y":3.16e-4},{"p":"g","s":"Async-CD-1","x":4.5,"y":1e-4},{"p":"g","s":"Async-CD-1","x":4.9,"y":2.29e-5},{"p":"g","s":"Async-CD-1","x":5.3,"y":6.31e-6},{"p":"g","s":"Async-CD-1","x":5.65,"y":1.58e-6},
{"p":"g","s":"Async-CD-2","x":0,"y":1},{"p":"g","s":"Async-CD-2","x":1.3,"y":3.02e-2},{"p":"g","s":"Async-CD-2","x":2.5,"y":4.79e-3},{"p":"g","s":"Async-CD-2","x":3.0,"y":2.24e-3},{"p":"g","s":"Async-CD-2","x":3.5,"y":7.94e-4},{"p":"g","s":"Async-CD-2","x":4.0,"y":2.51e-4},{"p":"g","s":"Async-CD-2","x":4.5,"y":7.94e-5},{"p":"g","s":"Async-CD-2","x":4.9,"y":2.0e-5},{"p":"g","s":"Async-CD-2","x":5.3,"y":5.01e-6},{"p":"g","s":"Async-CD-2","x":5.75,"y":1.41e-6},
{"p":"g","s":"Async-CD-4","x":0,"y":1},{"p":"g","s":"Async-CD-4","x":1.3,"y":3.16e-2},{"p":"g","s":"Async-CD-4","x":2.5,"y":5.01e-3},{"p":"g","s":"Async-CD-4","x":3.0,"y":2.4e-3},{"p":"g","s":"Async-CD-4","x":3.5,"y":8.32e-4},{"p":"g","s":"Async-CD-4","x":4.0,"y":2.82e-4},{"p":"g","s":"Async-CD-4","x":4.5,"y":8.91e-5},{"p":"g","s":"Async-CD-4","x":4.9,"y":2.09e-5},{"p":"g","s":"Async-CD-4","x":5.3,"y":5.62e-6},{"p":"g","s":"Async-CD-4","x":5.8,"y":1.26e-6},
{"p":"g","s":"Async-CD-8","x":0,"y":1},{"p":"g","s":"Async-CD-8","x":0.64,"y":0.363},{"p":"g","s":"Async-CD-8","x":1.28,"y":0.162},{"p":"g","s":"Async-CD-8","x":1.93,"y":0.117},{"p":"g","s":"Async-CD-8","x":2.57,"y":8.91e-2},{"p":"g","s":"Async-CD-8","x":3.21,"y":7.94e-2},{"p":"g","s":"Async-CD-8","x":3.85,"y":7.24e-2},{"p":"g","s":"Async-CD-8","x":4.49,"y":6.76e-2},{"p":"g","s":"Async-CD-8","x":5.13,"y":5.89e-2},{"p":"g","s":"Async-CD-8","x":5.78,"y":5.62e-2},{"p":"g","s":"Async-CD-8","x":7,"y":4.9e-2},
{"p":"g","s":"Alg 4-1","x":0,"y":1},{"p":"g","s":"Alg 4-1","x":1.28,"y":3.55e-2},{"p":"g","s":"Alg 4-1","x":2.44,"y":3.98e-3},{"p":"g","s":"Alg 4-1","x":3.08,"y":1e-3},{"p":"g","s":"Alg 4-1","x":3.47,"y":2.57e-4},{"p":"g","s":"Alg 4-1","x":3.72,"y":7.59e-5},{"p":"g","s":"Alg 4-1","x":3.79,"y":3.39e-5},{"p":"g","s":"Alg 4-1","x":3.92,"y":3.39e-5},{"p":"g","s":"Alg 4-1","x":4.04,"y":1.26e-5},{"p":"g","s":"Alg 4-1","x":4.21,"y":1.12e-6},
{"p":"g","s":"Alg 4-2","x":0,"y":1},{"p":"g","s":"Alg 4-2","x":1.03,"y":3.24e-2},{"p":"g","s":"Alg 4-2","x":1.93,"y":2.88e-3},{"p":"g","s":"Alg 4-2","x":2.57,"y":5.75e-4},{"p":"g","s":"Alg 4-2","x":2.82,"y":1.7e-4},{"p":"g","s":"Alg 4-2","x":3.0,"y":7.59e-5},{"p":"g","s":"Alg 4-2","x":3.15,"y":3.39e-5},{"p":"g","s":"Alg 4-2","x":3.3,"y":2.82e-5},{"p":"g","s":"Alg 4-2","x":3.5,"y":1.12e-6},
{"p":"g","s":"Alg 4-4","x":0,"y":1},{"p":"g","s":"Alg 4-4","x":0.9,"y":4.9e-2},{"p":"g","s":"Alg 4-4","x":1.67,"y":4.37e-3},{"p":"g","s":"Alg 4-4","x":2.18,"y":8.71e-4},{"p":"g","s":"Alg 4-4","x":2.57,"y":1.7e-4},{"p":"g","s":"Alg 4-4","x":2.82,"y":7.59e-5},{"p":"g","s":"Alg 4-4","x":2.95,"y":3.39e-5},{"p":"g","s":"Alg 4-4","x":3.08,"y":2.82e-5},{"p":"g","s":"Alg 4-4","x":3.21,"y":1.12e-6},
{"p":"g","s":"Alg 4-8","x":0,"y":1},{"p":"g","s":"Alg 4-8","x":0.77,"y":4.9e-2},{"p":"g","s":"Alg 4-8","x":1.41,"y":4.37e-3},{"p":"g","s":"Alg 4-8","x":1.93,"y":5.75e-4},{"p":"g","s":"Alg 4-8","x":2.31,"y":1.15e-4},{"p":"g","s":"Alg 4-8","x":2.57,"y":2.29e-5},{"p":"g","s":"Alg 4-8","x":2.7,"y":6.76e-6},{"p":"g","s":"Alg 4-8","x":2.89,"y":1.12e-6},
{"p":"g","s":"LIBLINEAR","x":0,"y":1},{"p":"g","s":"LIBLINEAR","x":1.26,"y":2.19e-2,"m":1},{"p":"g","s":"LIBLINEAR","x":2.25,"y":2.09e-3,"m":1},{"p":"g","s":"LIBLINEAR","x":2.76,"y":2.57e-4},{"p":"g","s":"LIBLINEAR","x":3.2,"y":6.31e-5},{"p":"g","s":"LIBLINEAR","x":3.53,"y":1.02e-5,"m":1},{"p":"g","s":"LIBLINEAR","x":3.85,"y":3.16e-6,"m":1},{"p":"g","s":"LIBLINEAR","x":4.17,"y":5.01e-7},

{"p":"h","s":"Async-CD-1","x":6,"y":0.1},{"p":"h","s":"Async-CD-1","x":7.9,"y":5.75e-2},{"p":"h","s":"Async-CD-1","x":12,"y":1.58e-2},{"p":"h","s":"Async-CD-1","x":17,"y":3.16e-3},{"p":"h","s":"Async-CD-1","x":22,"y":6.31e-4},{"p":"h","s":"Async-CD-1","x":26.9,"y":1.35e-4},{"p":"h","s":"Async-CD-1","x":30.2,"y":5.01e-5},{"p":"h","s":"Async-CD-1","x":33.6,"y":3.63e-5},{"p":"h","s":"Async-CD-1","x":36.9,"y":2.19e-5},{"p":"h","s":"Async-CD-1","x":40.2,"y":1.15e-5},{"p":"h","s":"Async-CD-1","x":42.7,"y":8.32e-6},{"p":"h","s":"Async-CD-1","x":45,"y":3.63e-6},
{"p":"h","s":"Async-CD-2","x":5.5,"y":0.1},{"p":"h","s":"Async-CD-2","x":9,"y":7.94e-3},{"p":"h","s":"Async-CD-2","x":12,"y":1e-3},{"p":"h","s":"Async-CD-2","x":14,"y":2.0e-4},{"p":"h","s":"Async-CD-2","x":16.2,"y":5.01e-5},{"p":"h","s":"Async-CD-2","x":20.3,"y":1.15e-5},{"p":"h","s":"Async-CD-2","x":24.5,"y":7.08e-6},{"p":"h","s":"Async-CD-2","x":26.9,"y":5.13e-6},{"p":"h","s":"Async-CD-2","x":30.2,"y":2.63e-6},{"p":"h","s":"Async-CD-2","x":34.4,"y":1.15e-6},{"p":"h","s":"Async-CD-2","x":38.1,"y":6.03e-7},{"p":"h","s":"Async-CD-2","x":41.8,"y":3.16e-7},{"p":"h","s":"Async-CD-2","x":45,"y":1.62e-7},
{"p":"h","s":"Async-CD-4","x":3.0,"y":0.1},{"p":"h","s":"Async-CD-4","x":6.2,"y":9.55e-4},{"p":"h","s":"Async-CD-4","x":8.7,"y":5.01e-5},{"p":"h","s":"Async-CD-4","x":12.0,"y":9.77e-6},{"p":"h","s":"Async-CD-4","x":16.2,"y":5.13e-6},{"p":"h","s":"Async-CD-4","x":20.3,"y":1.91e-6},{"p":"h","s":"Async-CD-4","x":24.5,"y":5.13e-7},{"p":"h","s":"Async-CD-4","x":26,"y":2.82e-7},
{"p":"h","s":"Async-CD-8","x":2.6,"y":0.1},{"p":"h","s":"Async-CD-8","x":5.8,"y":6.92e-4},{"p":"h","s":"Async-CD-8","x":8.3,"y":3.63e-5},{"p":"h","s":"Async-CD-8","x":10.4,"y":7.08e-6},{"p":"h","s":"Async-CD-8","x":12.0,"y":2.63e-6},{"p":"h","s":"Async-CD-8","x":13.7,"y":1e-6},{"p":"h","s":"Async-CD-8","x":15.3,"y":3.16e-7},{"p":"h","s":"Async-CD-8","x":16.5,"y":1.58e-7},
{"p":"h","s":"Alg 4-1","x":3.8,"y":0.1},{"p":"h","s":"Alg 4-1","x":7.9,"y":3.55e-3},{"p":"h","s":"Alg 4-1","x":12.0,"y":4.17e-4},{"p":"h","s":"Alg 4-1","x":16.2,"y":5.01e-5},{"p":"h","s":"Alg 4-1","x":19.5,"y":2.24e-5},{"p":"h","s":"Alg 4-1","x":21.1,"y":5.13e-6},{"p":"h","s":"Alg 4-1","x":22.8,"y":1.91e-6},{"p":"h","s":"Alg 4-1","x":24.5,"y":1.38e-6},{"p":"h","s":"Alg 4-1","x":26.1,"y":4.37e-7},{"p":"h","s":"Alg 4-1","x":30.0,"y":1e-7},
{"p":"h","s":"Alg 4-2","x":2.5,"y":0.1},{"p":"h","s":"Alg 4-2","x":5.4,"y":1.82e-3},{"p":"h","s":"Alg 4-2","x":7.9,"y":9.55e-5},{"p":"h","s":"Alg 4-2","x":9.5,"y":2.63e-5},{"p":"h","s":"Alg 4-2","x":12.0,"y":5.13e-6},{"p":"h","s":"Alg 4-2","x":13.7,"y":1.91e-6},{"p":"h","s":"Alg 4-2","x":15.3,"y":7.08e-7},{"p":"h","s":"Alg 4-2","x":16.2,"y":2.69e-7},{"p":"h","s":"Alg 4-2","x":17.0,"y":1.91e-7},{"p":"h","s":"Alg 4-2","x":19.5,"y":1e-7},
{"p":"h","s":"Alg 4-4","x":2.1,"y":0.1},{"p":"h","s":"Alg 4-4","x":5.0,"y":1.82e-3},{"p":"h","s":"Alg 4-4","x":7.5,"y":1.35e-4},{"p":"h","s":"Alg 4-4","x":8.7,"y":3.63e-5},{"p":"h","s":"Alg 4-4","x":11.2,"y":7.08e-6},{"p":"h","s":"Alg 4-4","x":12.8,"y":1.91e-6},{"p":"h","s":"Alg 4-4","x":14.5,"y":1e-6},{"p":"h","s":"Alg 4-4","x":16.2,"y":3.72e-7},{"p":"h","s":"Alg 4-4","x":17.6,"y":1.38e-7},{"p":"h","s":"Alg 4-4","x":18.2,"y":1e-7},
{"p":"h","s":"Alg 4-8","x":1.7,"y":0.1},{"p":"h","s":"Alg 4-8","x":4.1,"y":2.57e-3},{"p":"h","s":"Alg 4-8","x":6.6,"y":1.86e-4},{"p":"h","s":"Alg 4-8","x":7.9,"y":5.01e-5},{"p":"h","s":"Alg 4-8","x":9.5,"y":1.35e-5},{"p":"h","s":"Alg 4-8","x":11.2,"y":1.91e-6},{"p":"h","s":"Alg 4-8","x":12.4,"y":1e-6},{"p":"h","s":"Alg 4-8","x":14.1,"y":4.37e-7},{"p":"h","s":"Alg 4-8","x":15.3,"y":1.62e-7},{"p":"h","s":"Alg 4-8","x":16.0,"y":1e-7},
{"p":"h","s":"LIBLINEAR","x":3.5,"y":0.1},{"p":"h","s":"LIBLINEAR","x":10.1,"y":6.92e-4,"m":1},{"p":"h","s":"LIBLINEAR","x":12.4,"y":2.75e-5,"m":1},{"p":"h","s":"LIBLINEAR","x":17.6,"y":1.35e-5,"m":1},{"p":"h","s":"LIBLINEAR","x":21.0,"y":3.89e-6,"m":1},{"p":"h","s":"LIBLINEAR","x":25.9,"y":1.17e-6,"m":1},{"p":"h","s":"LIBLINEAR","x":27.5,"y":5.01e-7},{"p":"h","s":"LIBLINEAR","x":29.8,"y":4.68e-7,"m":1},{"p":"h","s":"LIBLINEAR","x":30.5,"y":1.32e-7},{"p":"h","s":"LIBLINEAR","x":31.5,"y":1.26e-7,"m":1},{"p":"h","s":"LIBLINEAR","x":34.0,"y":1.2e-7},

{"p":"i","s":"Async-CD-1","x":240,"y":0.1},{"p":"i","s":"Async-CD-1","x":398,"y":1.58e-2},{"p":"i","s":"Async-CD-1","x":580,"y":2.69e-3},{"p":"i","s":"Async-CD-1","x":809,"y":1e-3},{"p":"i","s":"Async-CD-1","x":1175,"y":3.72e-4},{"p":"i","s":"Async-CD-1","x":1495,"y":2.14e-4},{"p":"i","s":"Async-CD-1","x":1975,"y":1.26e-4},{"p":"i","s":"Async-CD-1","x":2157,"y":7.08e-5},{"p":"i","s":"Async-CD-1","x":2340,"y":3.55e-5},
{"p":"i","s":"Async-CD-2","x":220,"y":0.1},{"p":"i","s":"Async-CD-2","x":352,"y":1.58e-2},{"p":"i","s":"Async-CD-2","x":489,"y":3.39e-3},{"p":"i","s":"Async-CD-2","x":672,"y":1.12e-3},{"p":"i","s":"Async-CD-2","x":900,"y":5.13e-4},{"p":"i","s":"Async-CD-2","x":1175,"y":3.02e-4},{"p":"i","s":"Async-CD-2","x":1403,"y":1.51e-4},{"p":"i","s":"Async-CD-2","x":1609,"y":4.47e-5},
{"p":"i","s":"Async-CD-4","x":230,"y":0.1},{"p":"i","s":"Async-CD-4","x":330,"y":1.58e-2},{"p":"i","s":"Async-CD-4","x":480,"y":1.58e-3},{"p":"i","s":"Async-CD-4","x":640,"y":3.55e-4},{"p":"i","s":"Async-CD-4","x":820,"y":1.41e-4},{"p":"i","s":"Async-CD-4","x":900,"y":7.94e-5},{"p":"i","s":"Async-CD-4","x":930,"y":5.62e-5},
{"p":"i","s":"Async-CD-8","x":200,"y":0.1},{"p":"i","s":"Async-CD-8","x":300,"y":1.58e-2},{"p":"i","s":"Async-CD-8","x":450,"y":1.58e-3},{"p":"i","s":"Async-CD-8","x":620,"y":3.16e-4},{"p":"i","s":"Async-CD-8","x":800,"y":1e-4},{"p":"i","s":"Async-CD-8","x":900,"y":5.01e-5},{"p":"i","s":"Async-CD-8","x":950,"y":3.16e-5},
{"p":"i","s":"Alg 4-1","x":170,"y":0.1},{"p":"i","s":"Alg 4-1","x":306,"y":1.95e-2},{"p":"i","s":"Alg 4-1","x":489,"y":4.17e-3},{"p":"i","s":"Alg 4-1","x":763,"y":1.38e-3},{"p":"i","s":"Alg 4-1","x":1129,"y":5.62e-4},{"p":"i","s":"Alg 4-1","x":1495,"y":2.63e-4},{"p":"i","s":"Alg 4-1","x":1769,"y":1.51e-4},{"p":"i","s":"Alg 4-1","x":1975,"y":1.23e-4},{"p":"i","s":"Alg 4-1","x":2203,"y":7.08e-5},{"p":"i","s":"Alg 4-1","x":2500,"y":2.95e-5},
{"p":"i","s":"Alg 4-2","x":150,"y":0.1},{"p":"i","s":"Alg 4-2","x":238,"y":1.26e-2},{"p":"i","s":"Alg 4-2","x":375,"y":2.14e-3},{"p":"i","s":"Alg 4-2","x":580,"y":7.08e-4},{"p":"i","s":"Alg 4-2","x":855,"y":3.55e-4},{"p":"i","s":"Alg 4-2","x":1175,"y":1.7e-4},{"p":"i","s":"Alg 4-2","x":1357,"y":7.94e-5},{"p":"i","s":"Alg 4-2","x":1609,"y":2.75e-5},
{"p":"i","s":"Alg 4-4","x":130,"y":0.1},{"p":"i","s":"Alg 4-4","x":192,"y":1.26e-2},{"p":"i","s":"Alg 4-4","x":306,"y":2.14e-3},{"p":"i","s":"Alg 4-4","x":489,"y":5.62e-4},{"p":"i","s":"Alg 4-4","x":672,"y":3.09e-4},{"p":"i","s":"Alg 4-4","x":855,"y":1.82e-4},{"p":"i","s":"Alg 4-4","x":992,"y":9.77e-5},{"p":"i","s":"Alg 4-4","x":1197,"y":2.75e-5},
{"p":"i","s":"Alg 4-8","x":110,"y":0.1},{"p":"i","s":"Alg 4-8","x":169,"y":1.26e-2},{"p":"i","s":"Alg 4-8","x":260,"y":2.14e-3},{"p":"i","s":"Alg 4-8","x":398,"y":3.72e-4},{"p":"i","s":"Alg 4-8","x":535,"y":1.91e-4},{"p":"i","s":"Alg 4-8","x":672,"y":9.77e-5},{"p":"i","s":"Alg 4-8","x":740,"y":5.62e-5},{"p":"i","s":"Alg 4-8","x":832,"y":2.75e-5},
{"p":"i","s":"LIBLINEAR","x":120,"y":0.1},{"p":"i","s":"LIBLINEAR","x":215,"y":1e-2,"m":1},{"p":"i","s":"LIBLINEAR","x":411,"y":2.88e-3,"m":1},{"p":"i","s":"LIBLINEAR","x":590,"y":1.55e-3,"m":1},{"p":"i","s":"LIBLINEAR","x":900,"y":4.17e-4,"m":1},{"p":"i","s":"LIBLINEAR","x":1175,"y":2.14e-4,"m":1},{"p":"i","s":"LIBLINEAR","x":1463,"y":1.35e-4,"m":1},{"p":"i","s":"LIBLINEAR","x":1746,"y":6.46e-5,"m":1},{"p":"i","s":"LIBLINEAR","x":1998,"y":2.69e-5,"m":1},{"p":"i","s":"LIBLINEAR","x":2258,"y":1.17e-5,"m":1},{"p":"i","s":"LIBLINEAR","x":2300,"y":1e-5}
],
"labels":[
{"p":"a","t":"1","i":1,"x":4.68,"y":1.12e-5},{"p":"a","t":"2","i":1,"x":4.52,"y":2.75e-6},{"p":"a","t":"4","i":1,"x":4.27,"y":6.76e-7},{"p":"a","t":"8","i":1,"x":3.85,"y":2.29e-7},{"p":"a","t":"1","i":0,"x":5.56,"y":2.45e-7},{"p":"a","t":"2","i":0,"x":5.01,"y":1e-7},{"p":"a","t":"4","i":0,"x":4.35,"y":6.76e-8},{"p":"a","t":"8","i":0,"x":3.61,"y":6.46e-8},
{"p":"b","t":"8","i":1,"x":6.8,"y":7.41e-7},{"p":"b","t":"4","i":1,"x":11.6,"y":8.7e-7},{"p":"b","t":"8","i":0,"x":9.6,"y":4.17e-7},{"p":"b","t":"4","i":0,"x":10.9,"y":4.17e-7},{"p":"b","t":"2","i":0,"x":12.8,"y":4.17e-7},{"p":"b","t":"1","i":0,"x":15.9,"y":4.17e-7},{"p":"b","t":"2","i":1,"x":19.8,"y":7.08e-7},{"p":"b","t":"1","i":1,"x":27.4,"y":7.08e-7},
{"p":"c","t":"1","i":1,"x":2.31,"y":2.34e-6},{"p":"c","t":"2","i":1,"x":2.1,"y":5.01e-7},{"p":"c","t":"1","i":0,"x":2.27,"y":1.05e-7},{"p":"c","t":"4","i":1,"x":1.82,"y":5.25e-8},{"p":"c","t":"2","i":0,"x":1.67,"y":1.05e-7},{"p":"c","t":"4","i":0,"x":1.48,"y":1.05e-7},{"p":"c","t":"8","i":0,"x":1.13,"y":1.05e-7},{"p":"c","t":"8","i":1,"x":0.95,"y":2.69e-7},
{"p":"d","t":"8","i":1,"x":37.2,"y":3.47e-6},{"p":"d","t":"4","i":1,"x":63.7,"y":3.47e-6},{"p":"d","t":"8","i":0,"x":56.5,"y":1.2e-6},{"p":"d","t":"4","i":0,"x":66.3,"y":1.2e-6},{"p":"d","t":"2","i":0,"x":86.1,"y":1.2e-6},{"p":"d","t":"1","i":0,"x":124,"y":1.2e-6},{"p":"d","t":"2","i":1,"x":122.8,"y":1e-5},
{"p":"e","t":"8","i":1,"x":222,"y":4.47e-3},{"p":"e","t":"1","i":1,"x":294,"y":1.41e-3},{"p":"e","t":"2","i":1,"x":259,"y":1.07e-3},{"p":"e","t":"4","i":1,"x":193,"y":1.07e-3},{"p":"e","t":"1","i":0,"x":273,"y":6.92e-4},{"p":"e","t":"2","i":0,"x":176,"y":7.24e-4},{"p":"e","t":"4","i":0,"x":128,"y":7.24e-4},{"p":"e","t":"8","i":0,"x":106,"y":7.24e-4},
{"p":"f","t":"8","i":1,"x":708,"y":6.61e-6},{"p":"f","t":"4","i":1,"x":1259,"y":6.61e-6},{"p":"f","t":"8","i":0,"x":1333,"y":2.45e-6},{"p":"f","t":"4","i":0,"x":1673,"y":2.45e-6},{"p":"f","t":"2","i":0,"x":2389,"y":2.45e-6},{"p":"f","t":"2","i":1,"x":2316,"y":6.61e-6},{"p":"f","t":"1","i":1,"x":3400,"y":1.41e-5},{"p":"f","t":"1","i":0,"x":3805,"y":2.45e-6},
{"p":"g","t":"8","i":1,"x":4.62,"y":8.91e-2},{"p":"g","t":"8","i":0,"x":2.93,"y":2.19e-6},{"p":"g","t":"4","i":0,"x":3.3,"y":2.19e-6},{"p":"g","t":"2","i":0,"x":3.57,"y":2.19e-6},{"p":"g","t":"1","i":0,"x":4.27,"y":2.04e-6},{"p":"g","t":"1","i":1,"x":5.12,"y":4.9e-6},{"p":"g","t":"2","i":1,"x":5.34,"y":4.9e-6},{"p":"g","t":"4","i":1,"x":5.56,"y":4.9e-6},
{"p":"h","t":"8","i":0,"x":15.1,"y":2.29e-7},{"p":"h","t":"4","i":0,"x":17.3,"y":2.29e-7},{"p":"h","t":"2","i":0,"x":18.8,"y":2.29e-7},{"p":"h","t":"8","i":1,"x":15.8,"y":5.6e-7},{"p":"h","t":"4","i":1,"x":24.6,"y":3.98e-7},{"p":"h","t":"1","i":0,"x":28.8,"y":2.24e-7},{"p":"h","t":"2","i":1,"x":38.1,"y":6.03e-7},{"p":"h","t":"1","i":1,"x":40.6,"y":1.15e-5},
{"p":"i","t":"8","i":1,"x":869,"y":1.45e-4},{"p":"i","t":"4","i":1,"x":1005,"y":1.32e-4},{"p":"i","t":"8","i":0,"x":832,"y":4.37e-5},{"p":"i","t":"4","i":0,"x":1161,"y":4.07e-5},{"p":"i","t":"2","i":0,"x":1540,"y":4.07e-5},{"p":"i","t":"2","i":1,"x":1426,"y":1.2e-4},{"p":"i","t":"1","i":1,"x":1998,"y":1.12e-4},{"p":"i","t":"1","i":0,"x":2363,"y":4.57e-5}
]
},
"resolve":{"scale":{"color":"independent","strokeDash":"independent"},"legend":{"color":"independent","strokeDash":"independent"}},
"concat":[
{"width":181,"height":135,"title":{"text":"(a)  rcv1_multiclass bin","orient":"bottom"},
"encoding":{"x":{"field":"x","type":"quantitative","title":null,"scale":{"domain":[0,6],"nice":false,"zero":false},"axis":{"values":[0,1,2,3,4,5,6],"format":"d","labelOverlap":false}},
"y":{"field":"y","type":"quantitative","title":null,"scale":{"type":"log","domain":[1e-8,0.1],"nice":false},"axis":{"values":[1e-8,1e-7,1e-6,1e-5,1e-4,1e-3,1e-2,1e-1],"labelOverlap":false,"labelExpr":"'10' + (datum.value > 0.5 ? '⁰' : '⁻' + substring('¹²³⁴⁵⁶⁷⁸⁹', round(-log(datum.value)/LN10) - 1, round(-log(datum.value)/LN10)))"}}},
"layer":[
{"data":{"name":"lines"},"transform":[{"filter":"datum.p=='a'"}],"mark":{"type":"line","strokeWidth":1.6,"clip":true},
"encoding":{
"color":{"field":"s","type":"nominal","title":null,"scale":{"domain":["Async-CD-1","Async-CD-2","Async-CD-4","Async-CD-8","Alg 4-1","Alg 4-2","Alg 4-4","Alg 4-8","LIBLINEAR"],"range":["#ff2a2a","#ffa530","#c8e62e","#44dd33","#40e8b0","#30b0e8","#2e36d8","#8a2be2","#ff40ff"]}},
"strokeDash":{"field":"s","type":"nominal","title":null,"scale":{"domain":["Async-CD-1","Async-CD-2","Async-CD-4","Async-CD-8","Alg 4-1","Alg 4-2","Alg 4-4","Alg 4-8","LIBLINEAR"],"range":[[3,2],[3,2],[3,2],[3,2],[1,0],[1,0],[1,0],[1,0],[4,1.5,1,1.5]]}}}},
{"data":{"name":"lines"},"transform":[{"filter":"datum.p=='a' && datum.m==1"}],"mark":{"type":"point","filled":true,"size":12,"color":"#c0259f","opacity":1},"encoding":{}},
{"data":{"name":"labels"},"transform":[{"filter":"datum.p=='a' && datum.i==0"}],"mark":{"type":"text","font":"DejaVu Sans","fontSize":8,"color":"#333"},"encoding":{"text":{"field":"t"}}},
{"data":{"name":"labels"},"transform":[{"filter":"datum.p=='a' && datum.i==1"}],"mark":{"type":"text","font":"DejaVu Sans","fontSize":8,"fontStyle":"italic","color":"#333"},"encoding":{"text":{"field":"t"}}}
]},
{"width":181,"height":135,"title":{"text":"(b)  yahoo-korea","orient":"bottom"},
"encoding":{"x":{"field":"x","type":"quantitative","title":null,"scale":{"domain":[0,40],"nice":false,"zero":false},"axis":{"values":[0,5,10,15,20,25,30,35,40],"format":"d","labelOverlap":false}},
"y":{"field":"y","type":"quantitative","title":null,"scale":{"type":"log","domain":[1e-7,1e-2],"nice":false},"axis":{"values":[1e-7,1e-6,1e-5,1e-4,1e-3,1e-2],"labelOverlap":false,"labelExpr":"'10' + (datum.value > 0.5 ? '⁰' : '⁻' + substring('¹²³⁴⁵⁶⁷⁸⁹', round(-log(datum.value)/LN10) - 1, round(-log(datum.value)/LN10)))"}}},
"layer":[
{"data":{"name":"lines"},"transform":[{"filter":"datum.p=='b'"}],"mark":{"type":"line","strokeWidth":1.6,"clip":true},
"encoding":{
"color":{"field":"s","type":"nominal","title":null,"scale":{"domain":["Async-CD-1","Async-CD-2","Async-CD-4","Async-CD-8","Alg 4-1","Alg 4-2","Alg 4-4","Alg 4-8","LIBLINEAR"],"range":["#ff2a2a","#ffa530","#c8e62e","#44dd33","#40e8b0","#30b0e8","#2e36d8","#8a2be2","#ff40ff"]}},
"strokeDash":{"field":"s","type":"nominal","title":null,"scale":{"domain":["Async-CD-1","Async-CD-2","Async-CD-4","Async-CD-8","Alg 4-1","Alg 4-2","Alg 4-4","Alg 4-8","LIBLINEAR"],"range":[[3,2],[3,2],[3,2],[3,2],[1,0],[1,0],[1,0],[1,0],[4,1.5,1,1.5]]}}}},
{"data":{"name":"lines"},"transform":[{"filter":"datum.p=='b' && datum.m==1"}],"mark":{"type":"point","filled":true,"size":12,"color":"#c0259f","opacity":1},"encoding":{}},
{"data":{"name":"labels"},"transform":[{"filter":"datum.p=='b' && datum.i==0"}],"mark":{"type":"text","font":"DejaVu Sans","fontSize":8,"color":"#333"},"encoding":{"text":{"field":"t"}}},
{"data":{"name":"labels"},"transform":[{"filter":"datum.p=='b' && datum.i==1"}],"mark":{"type":"text","font":"DejaVu Sans","fontSize":8,"fontStyle":"italic","color":"#333"},"encoding":{"text":{"field":"t"}}}
]},
{"width":181,"height":135,"title":{"text":"(c)  yahoo-japan","orient":"bottom"},
"encoding":{"x":{"field":"x","type":"quantitative","title":null,"scale":{"domain":[0,3],"nice":false,"zero":false},"axis":{"values":[0,0.5,1,1.5,2,2.5,3],"format":".1f","labelOverlap":false}},
"y":{"field":"y","type":"quantitative","title":null,"scale":{"type":"log","domain":[1e-8,1e-2],"nice":false},"axis":{"values":[1e-8,1e-7,1e-6,1e-5,1e-4,1e-3,1e-2],"labelOverlap":false,"labelExpr":"'10' + (datum.value > 0.5 ? '⁰' : '⁻' + substring('¹²³⁴⁵⁶⁷⁸⁹', round(-log(datum.value)/LN10) - 1, round(-log(datum.value)/LN10)))"}}},
"layer":[
{"data":{"name":"lines"},"transform":[{"filter":"datum.p=='c'"}],"mark":{"type":"line","strokeWidth":1.6,"clip":true},
"encoding":{
"color":{"field":"s","type":"nominal","title":null,"scale":{"domain":["Async-CD-1","Async-CD-2","Async-CD-4","Async-CD-8","Alg 4-1","Alg 4-2","Alg 4-4","Alg 4-8","LIBLINEAR"],"range":["#ff2a2a","#ffa530","#c8e62e","#44dd33","#40e8b0","#30b0e8","#2e36d8","#8a2be2","#ff40ff"]}},
"strokeDash":{"field":"s","type":"nominal","title":null,"scale":{"domain":["Async-CD-1","Async-CD-2","Async-CD-4","Async-CD-8","Alg 4-1","Alg 4-2","Alg 4-4","Alg 4-8","LIBLINEAR"],"range":[[3,2],[3,2],[3,2],[3,2],[1,0],[1,0],[1,0],[1,0],[4,1.5,1,1.5]]}}}},
{"data":{"name":"lines"},"transform":[{"filter":"datum.p=='c' && datum.m==1"}],"mark":{"type":"point","filled":true,"size":12,"color":"#c0259f","opacity":1},"encoding":{}},
{"data":{"name":"labels"},"transform":[{"filter":"datum.p=='c' && datum.i==0"}],"mark":{"type":"text","font":"DejaVu Sans","fontSize":8,"color":"#333"},"encoding":{"text":{"field":"t"}}},
{"data":{"name":"labels"},"transform":[{"filter":"datum.p=='c' && datum.i==1"}],"mark":{"type":"text","font":"DejaVu Sans","fontSize":8,"fontStyle":"italic","color":"#333"},"encoding":{"text":{"field":"t"}}}
]},
{"width":181,"height":135,"title":{"text":"(d)  webspam","orient":"bottom"},
"encoding":{"x":{"field":"x","type":"quantitative","title":null,"scale":{"domain":[0,140],"nice":false,"zero":false},"axis":{"values":[0,20,40,60,80,100,120,140],"format":"d","labelOverlap":false}},
"y":{"field":"y","type":"quantitative","title":null,"scale":{"type":"log","domain":[1e-7,1e-1],"nice":false},"axis":{"values":[1e-7,1e-6,1e-5,1e-4,1e-3,1e-2,1e-1],"labelOverlap":false,"labelExpr":"'10' + (datum.value > 0.5 ? '⁰' : '⁻' + substring('¹²³⁴⁵⁶⁷⁸⁹', round(-log(datum.value)/LN10) - 1, round(-log(datum.value)/LN10)))"}}},
"layer":[
{"data":{"name":"lines"},"transform":[{"filter":"datum.p=='d'"}],"mark":{"type":"line","strokeWidth":1.6,"clip":true},
"encoding":{
"color":{"field":"s","type":"nominal","title":null,"scale":{"domain":["Async-CD-1","Async-CD-2","Async-CD-4","Async-CD-8","Alg 4-1","Alg 4-2","Alg 4-4","Alg 4-8","LIBLINEAR"],"range":["#ff2a2a","#ffa530","#c8e62e","#44dd33","#40e8b0","#30b0e8","#2e36d8","#8a2be2","#ff40ff"]}},
"strokeDash":{"field":"s","type":"nominal","title":null,"scale":{"domain":["Async-CD-1","Async-CD-2","Async-CD-4","Async-CD-8","Alg 4-1","Alg 4-2","Alg 4-4","Alg 4-8","LIBLINEAR"],"range":[[3,2],[3,2],[3,2],[3,2],[1,0],[1,0],[1,0],[1,0],[4,1.5,1,1.5]]}}}},
{"data":{"name":"lines"},"transform":[{"filter":"datum.p=='d' && datum.m==1"}],"mark":{"type":"point","filled":true,"size":12,"color":"#c0259f","opacity":1},"encoding":{}},
{"data":{"name":"labels"},"transform":[{"filter":"datum.p=='d' && datum.i==0"}],"mark":{"type":"text","font":"DejaVu Sans","fontSize":8,"color":"#333"},"encoding":{"text":{"field":"t"}}},
{"data":{"name":"labels"},"transform":[{"filter":"datum.p=='d' && datum.i==1"}],"mark":{"type":"text","font":"DejaVu Sans","fontSize":8,"fontStyle":"italic","color":"#333"},"encoding":{"text":{"field":"t"}}}
]},
{"width":181,"height":135,"title":{"text":"(e)  url_combined","orient":"bottom"},
"encoding":{"x":{"field":"x","type":"quantitative","title":null,"scale":{"domain":[0,400],"nice":false,"zero":false},"axis":{"values":[0,50,100,150,200,250,300,350,400],"format":"d","labelOverlap":false}},
"y":{"field":"y","type":"quantitative","title":null,"scale":{"type":"log","domain":[1e-4,1e-1],"nice":false},"axis":{"values":[1e-4,1e-3,1e-2,1e-1],"labelOverlap":false,"labelExpr":"'10' + (datum.value > 0.5 ? '⁰' : '⁻' + substring('¹²³⁴⁵⁶⁷⁸⁹', round(-log(datum.value)/LN10) - 1, round(-log(datum.value)/LN10)))"}}},
"layer":[
{"data":{"name":"lines"},"transform":[{"filter":"datum.p=='e'"}],"mark":{"type":"line","strokeWidth":1.6,"clip":true},
"encoding":{
"color":{"field":"s","type":"nominal","title":null,"scale":{"domain":["Async-CD-1","Async-CD-2","Async-CD-4","Async-CD-8","Alg 4-1","Alg 4-2","Alg 4-4","Alg 4-8","LIBLINEAR"],"range":["#ff2a2a","#ffa530","#c8e62e","#44dd33","#40e8b0","#30b0e8","#2e36d8","#8a2be2","#ff40ff"]}},
"strokeDash":{"field":"s","type":"nominal","title":null,"scale":{"domain":["Async-CD-1","Async-CD-2","Async-CD-4","Async-CD-8","Alg 4-1","Alg 4-2","Alg 4-4","Alg 4-8","LIBLINEAR"],"range":[[3,2],[3,2],[3,2],[3,2],[1,0],[1,0],[1,0],[1,0],[4,1.5,1,1.5]]}}}},
{"data":{"name":"lines"},"transform":[{"filter":"datum.p=='e' && datum.m==1"}],"mark":{"type":"point","filled":true,"size":12,"color":"#c0259f","opacity":1},"encoding":{}},
{"data":{"name":"labels"},"transform":[{"filter":"datum.p=='e' && datum.i==0"}],"mark":{"type":"text","font":"DejaVu Sans","fontSize":8,"color":"#333"},"encoding":{"text":{"field":"t"}}},
{"data":{"name":"labels"},"transform":[{"filter":"datum.p=='e' && datum.i==1"}],"mark":{"type":"text","font":"DejaVu Sans","fontSize":8,"fontStyle":"italic","color":"#333"},"encoding":{"text":{"field":"t"}}}
]},
{"width":181,"height":135,"title":{"text":"(f)  KDD2010-b","orient":"bottom"},
"encoding":{"x":{"field":"x","type":"quantitative","title":null,"scale":{"domain":[0,5000],"nice":false,"zero":false},"axis":{"values":[0,1000,2000,3000,4000,5000],"format":"d","labelOverlap":false}},
"y":{"field":"y","type":"quantitative","title":null,"scale":{"type":"log","domain":[1e-7,1e-1],"nice":false},"axis":{"values":[1e-7,1e-6,1e-5,1e-4,1e-3,1e-2,1e-1],"labelOverlap":false,"labelExpr":"'10' + (datum.value > 0.5 ? '⁰' : '⁻' + substring('¹²³⁴⁵⁶⁷⁸⁹', round(-log(datum.value)/LN10) - 1, round(-log(datum.value)/LN10)))"}}},
"layer":[
{"data":{"name":"lines"},"transform":[{"filter":"datum.p=='f'"}],"mark":{"type":"line","strokeWidth":1.6,"clip":true},
"encoding":{
"color":{"field":"s","type":"nominal","title":null,"scale":{"domain":["Async-CD-1","Async-CD-2","Async-CD-4","Async-CD-8","Alg 4-1","Alg 4-2","Alg 4-4","Alg 4-8","LIBLINEAR"],"range":["#ff2a2a","#ffa530","#c8e62e","#44dd33","#40e8b0","#30b0e8","#2e36d8","#8a2be2","#ff40ff"]}},
"strokeDash":{"field":"s","type":"nominal","title":null,"scale":{"domain":["Async-CD-1","Async-CD-2","Async-CD-4","Async-CD-8","Alg 4-1","Alg 4-2","Alg 4-4","Alg 4-8","LIBLINEAR"],"range":[[3,2],[3,2],[3,2],[3,2],[1,0],[1,0],[1,0],[1,0],[4,1.5,1,1.5]]}}}},
{"data":{"name":"lines"},"transform":[{"filter":"datum.p=='f' && datum.m==1"}],"mark":{"type":"point","filled":true,"size":12,"color":"#c0259f","opacity":1},"encoding":{}},
{"data":{"name":"labels"},"transform":[{"filter":"datum.p=='f' && datum.i==0"}],"mark":{"type":"text","font":"DejaVu Sans","fontSize":8,"color":"#333"},"encoding":{"text":{"field":"t"}}},
{"data":{"name":"labels"},"transform":[{"filter":"datum.p=='f' && datum.i==1"}],"mark":{"type":"text","font":"DejaVu Sans","fontSize":8,"fontStyle":"italic","color":"#333"},"encoding":{"text":{"field":"t"}}}
]},
{"width":181,"height":135,"title":{"text":"(g)  covtype_binary","orient":"bottom"},
"encoding":{"x":{"field":"x","type":"quantitative","title":null,"scale":{"domain":[0,7],"nice":false,"zero":false},"axis":{"values":[0,1,2,3,4,5,6,7],"format":"d","labelOverlap":false}},
"y":{"field":"y","type":"quantitative","title":null,"scale":{"type":"log","domain":[1e-7,1],"nice":false},"axis":{"values":[1e-7,1e-6,1e-5,1e-4,1e-3,1e-2,1e-1,1],"labelOverlap":false,"labelExpr":"'10' + (datum.value > 0.5 ? '⁰' : '⁻' + substring('¹²³⁴⁵⁶⁷⁸⁹', round(-log(datum.value)/LN10) - 1, round(-log(datum.value)/LN10)))"}}},
"layer":[
{"data":{"name":"lines"},"transform":[{"filter":"datum.p=='g'"}],"mark":{"type":"line","strokeWidth":1.6,"clip":true},
"encoding":{
"color":{"field":"s","type":"nominal","title":null,"scale":{"domain":["Async-CD-1","Async-CD-2","Async-CD-4","Async-CD-8","Alg 4-1","Alg 4-2","Alg 4-4","Alg 4-8","LIBLINEAR"],"range":["#ff2a2a","#ffa530","#c8e62e","#44dd33","#40e8b0","#30b0e8","#2e36d8","#8a2be2","#ff40ff"]}},
"strokeDash":{"field":"s","type":"nominal","title":null,"scale":{"domain":["Async-CD-1","Async-CD-2","Async-CD-4","Async-CD-8","Alg 4-1","Alg 4-2","Alg 4-4","Alg 4-8","LIBLINEAR"],"range":[[3,2],[3,2],[3,2],[3,2],[1,0],[1,0],[1,0],[1,0],[4,1.5,1,1.5]]}}}},
{"data":{"name":"lines"},"transform":[{"filter":"datum.p=='g' && datum.m==1"}],"mark":{"type":"point","filled":true,"size":12,"color":"#c0259f","opacity":1},"encoding":{}},
{"data":{"name":"labels"},"transform":[{"filter":"datum.p=='g' && datum.i==0"}],"mark":{"type":"text","font":"DejaVu Sans","fontSize":8,"color":"#333"},"encoding":{"text":{"field":"t"}}},
{"data":{"name":"labels"},"transform":[{"filter":"datum.p=='g' && datum.i==1"}],"mark":{"type":"text","font":"DejaVu Sans","fontSize":8,"fontStyle":"italic","color":"#333"},"encoding":{"text":{"field":"t"}}}
]},
{"width":181,"height":135,"title":{"text":"(h)  epsilon","orient":"bottom"},
"encoding":{"x":{"field":"x","type":"quantitative","title":null,"scale":{"domain":[0,45],"nice":false,"zero":false},"axis":{"values":[0,5,10,15,20,25,30,35,40,45],"format":"d","labelOverlap":false}},
"y":{"field":"y","type":"quantitative","title":null,"scale":{"type":"log","domain":[1e-7,1e-1],"nice":false},"axis":{"values":[1e-7,1e-6,1e-5,1e-4,1e-3,1e-2,1e-1],"labelOverlap":false,"labelExpr":"'10' + (datum.value > 0.5 ? '⁰' : '⁻' + substring('¹²³⁴⁵⁶⁷⁸⁹', round(-log(datum.value)/LN10) - 1, round(-log(datum.value)/LN10)))"}}},
"layer":[
{"data":{"name":"lines"},"transform":[{"filter":"datum.p=='h'"}],"mark":{"type":"line","strokeWidth":1.6,"clip":true},
"encoding":{
"color":{"field":"s","type":"nominal","title":null,"scale":{"domain":["Async-CD-1","Async-CD-2","Async-CD-4","Async-CD-8","Alg 4-1","Alg 4-2","Alg 4-4","Alg 4-8","LIBLINEAR"],"range":["#ff2a2a","#ffa530","#c8e62e","#44dd33","#40e8b0","#30b0e8","#2e36d8","#8a2be2","#ff40ff"]}},
"strokeDash":{"field":"s","type":"nominal","title":null,"scale":{"domain":["Async-CD-1","Async-CD-2","Async-CD-4","Async-CD-8","Alg 4-1","Alg 4-2","Alg 4-4","Alg 4-8","LIBLINEAR"],"range":[[3,2],[3,2],[3,2],[3,2],[1,0],[1,0],[1,0],[1,0],[4,1.5,1,1.5]]}}}},
{"data":{"name":"lines"},"transform":[{"filter":"datum.p=='h' && datum.m==1"}],"mark":{"type":"point","filled":true,"size":12,"color":"#c0259f","opacity":1},"encoding":{}},
{"data":{"name":"labels"},"transform":[{"filter":"datum.p=='h' && datum.i==0"}],"mark":{"type":"text","font":"DejaVu Sans","fontSize":8,"color":"#333"},"encoding":{"text":{"field":"t"}}},
{"data":{"name":"labels"},"transform":[{"filter":"datum.p=='h' && datum.i==1"}],"mark":{"type":"text","font":"DejaVu Sans","fontSize":8,"fontStyle":"italic","color":"#333"},"encoding":{"text":{"field":"t"}}}
]},
{"width":181,"height":135,"title":{"text":"(i)  HIGGS","orient":"bottom"},
"encoding":{"x":{"field":"x","type":"quantitative","title":null,"scale":{"domain":[0,2500],"nice":false,"zero":false},"axis":{"values":[0,500,1000,1500,2000,2500],"format":"d","labelOverlap":false}},
"y":{"field":"y","type":"quantitative","title":null,"scale":{"type":"log","domain":[1e-5,1e-1],"nice":false},"axis":{"values":[1e-5,1e-4,1e-3,1e-2,1e-1],"labelOverlap":false,"labelExpr":"'10' + (datum.value > 0.5 ? '⁰' : '⁻' + substring('¹²³⁴⁵⁶⁷⁸⁹', round(-log(datum.value)/LN10) - 1, round(-log(datum.value)/LN10)))"}}},
"layer":[
{"data":{"name":"lines"},"transform":[{"filter":"datum.p=='i'"}],"mark":{"type":"line","strokeWidth":1.6,"clip":true},
"encoding":{
"color":{"field":"s","type":"nominal","title":null,"scale":{"domain":["Async-CD-1","Async-CD-2","Async-CD-4","Async-CD-8","Alg 4-1","Alg 4-2","Alg 4-4","Alg 4-8","LIBLINEAR"],"range":["#ff2a2a","#ffa530","#c8e62e","#44dd33","#40e8b0","#30b0e8","#2e36d8","#8a2be2","#ff40ff"]}},
"strokeDash":{"field":"s","type":"nominal","title":null,"scale":{"domain":["Async-CD-1","Async-CD-2","Async-CD-4","Async-CD-8","Alg 4-1","Alg 4-2","Alg 4-4","Alg 4-8","LIBLINEAR"],"range":[[3,2],[3,2],[3,2],[3,2],[1,0],[1,0],[1,0],[1,0],[4,1.5,1,1.5]]}}}},
{"data":{"name":"lines"},"transform":[{"filter":"datum.p=='i' && datum.m==1"}],"mark":{"type":"point","filled":true,"size":12,"color":"#c0259f","opacity":1},"encoding":{}},
{"data":{"name":"labels"},"transform":[{"filter":"datum.p=='i' && datum.i==0"}],"mark":{"type":"text","font":"DejaVu Sans","fontSize":8,"color":"#333"},"encoding":{"text":{"field":"t"}}},
{"data":{"name":"labels"},"transform":[{"filter":"datum.p=='i' && datum.i==1"}],"mark":{"type":"text","font":"DejaVu Sans","fontSize":8,"fontStyle":"italic","color":"#333"},"encoding":{"text":{"field":"t"}}}
]}
],
"config":{
"view":{"stroke":"#777","strokeWidth":1},
"axis":{"grid":false,"domain":false,"labelFont":"DejaVu Sans","labelFontSize":7,"labelColor":"#222","tickColor":"#555","tickSize":-3,"labelPadding":5,"labelFlush":false,"labelOverlap":false},
"legend":{"orient":"top-right","offset":1,"padding":3,"strokeColor":"#aaa","fillColor":"white","labelFont":"DejaVu Sans","labelFontSize":5.5,"labelColor":"#222","symbolSize":56,"symbolStrokeWidth":1.5,"symbolType":"stroke","rowPadding":0,"labelOffset":3,"cornerRadius":0},
"title":{"font":"Lato","fontSize":14.5,"fontWeight":"normal","color":"#111","offset":3,"orient":"bottom"}
}
}
